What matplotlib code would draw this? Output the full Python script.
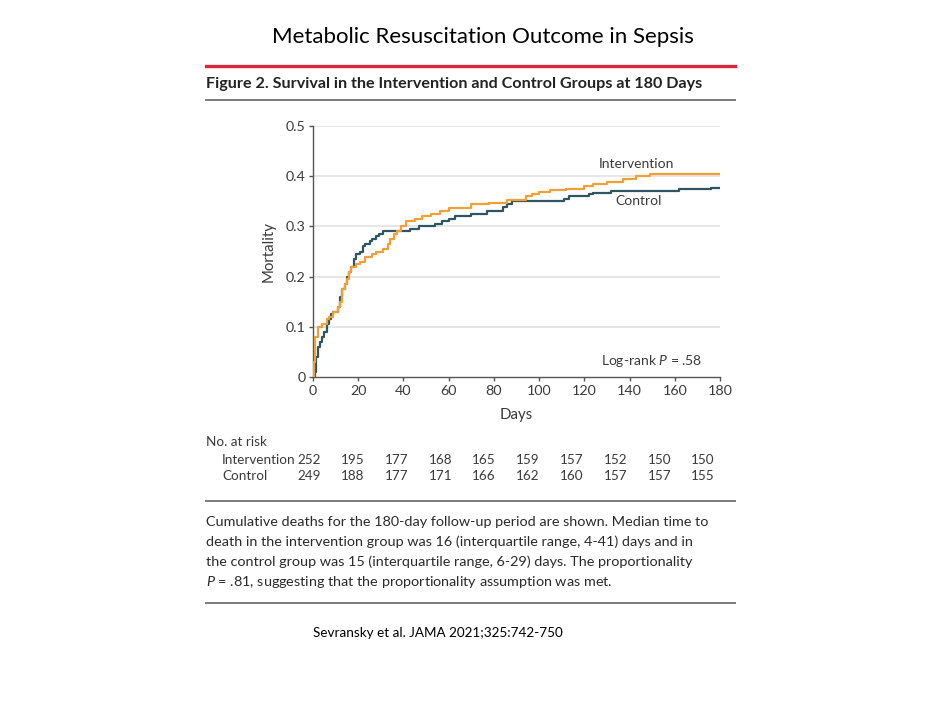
import matplotlib.pyplot as plt
from matplotlib.lines import Line2D
import numpy as np

# Kaplan-Meier style cumulative mortality
int_days = [0, 0.5, 1, 2, 4, 6, 7, 9, 11, 12, 13, 14, 15, 16, 17, 19, 21, 23, 26, 28,
            31, 33, 34, 36, 37, 39, 41, 45, 48, 52, 56, 60, 70, 78, 86, 94, 97, 100, 105, 112,
            120, 124, 130, 137, 143, 149, 180]
int_mort = [0, 0.03, 0.08, 0.10, 0.105, 0.115, 0.12, 0.13, 0.14, 0.15, 0.175, 0.185, 0.195, 0.21, 0.22, 0.225, 0.23, 0.24, 0.245, 0.25,
            0.255, 0.265, 0.275, 0.285, 0.29, 0.30, 0.31, 0.315, 0.32, 0.325, 0.33, 0.337, 0.344, 0.347, 0.352, 0.36, 0.364, 0.368, 0.372, 0.375,
            0.381, 0.385, 0.389, 0.394, 0.40, 0.405, 0.405]

ctl_days = [0, 1, 1.5, 2, 3, 4, 5, 6, 7, 8, 9, 11, 12, 13, 14, 15, 16, 17, 18, 19,
            21, 22, 23, 25, 26, 28, 29, 31, 43, 47, 54, 57, 60, 63, 70, 77, 84, 86, 88, 111,
            113, 122, 124, 132, 162, 176, 180]
ctl_mort = [0, 0.01, 0.04, 0.06, 0.07, 0.08, 0.09, 0.105, 0.115, 0.125, 0.13, 0.14, 0.16, 0.175, 0.185, 0.20, 0.21, 0.22, 0.235, 0.245,
            0.25, 0.26, 0.265, 0.27, 0.275, 0.28, 0.285, 0.29, 0.295, 0.30, 0.305, 0.31, 0.315, 0.32, 0.325, 0.33, 0.338, 0.344, 0.35, 0.355,
            0.36, 0.364, 0.367, 0.371, 0.374, 0.377, 0.377]

risk_days = [0, 20, 40, 60, 80, 100, 120, 140, 160, 180]
risk_int = [252, 195, 177, 168, 165, 159, 157, 152, 150, 150]
risk_ctl = [249, 188, 177, 171, 166, 162, 160, 157, 157, 155]

ORANGE = '#f0a035'
TEAL = '#2d5562'
GRAY = '#3a3a3a'
FONT = 'Lato'

plt.rcParams['mathtext.fontset'] = 'custom'
plt.rcParams['mathtext.it'] = 'Lato:italic'

W, H = 935, 720
fig = plt.figure(figsize=(W / 100, H / 100), dpi=100)
fig.patch.set_facecolor('white')

def fx(px):
    return px / W

def fy(py):
    return 1 - py / H

def hline(y, x0, x1, color, lw):
    fig.add_artist(Line2D([fx(x0), fx(x1)], [fy(y), fy(y)], color=color, lw=lw,
                          transform=fig.transFigure))

# header
fig.text(fx(483), fy(37), 'Metabolic Resuscitation Outcome in Sepsis', ha='center', va='center',
         fontsize=16, family=FONT, color='black')
hline(66, 206, 735, '#d42a3c', 2.4)
fig.text(fx(206), fy(84), 'Figure 2. Survival in the Intervention and Control Groups at 180 Days',
         ha='left', va='center', fontsize=11.6, family=FONT, weight='bold', color='#222222')
hline(100, 206, 735, '#7a7a7a', 1.4)

# main axes
ax = fig.add_axes([fx(313), fy(377), fx(720 - 313), (377 - 126) / H])
ax.step(int_days, int_mort, where='post', color=ORANGE, lw=1.6, zorder=3)
ax.step(ctl_days, ctl_mort, where='post', color=TEAL, lw=1.6, zorder=2)
ax.set_xlim(0, 180)
ax.set_ylim(0, 0.5)
ax.set_xticks(risk_days)
ax.set_yticks([0, 0.1, 0.2, 0.3, 0.4, 0.5])
ax.set_yticklabels(['0', '0.1', '0.2', '0.3', '0.4', '0.5'])
for y in [0.1, 0.2, 0.3, 0.4, 0.5]:
    ax.axhline(y, color='#e2e2e2', lw=1.2, zorder=0)
for s in ['top', 'right']:
    ax.spines[s].set_visible(False)
for s in ['left', 'bottom']:
    ax.spines[s].set_color('#555555')
    ax.spines[s].set_linewidth(1.0)
ax.tick_params(direction='out', length=3, width=1, color='#555555', labelcolor=GRAY,
               labelsize=10.3, pad=2.5)
for lab in ax.get_xticklabels() + ax.get_yticklabels():
    lab.set_family(FONT)
ax.set_xlabel('Days', fontsize=10.8, family=FONT, color=GRAY, labelpad=8)
ax.set_ylabel('Mortality', fontsize=10.8, family=FONT, color=GRAY, labelpad=7)

ax.text(143, 0.425, 'Intervention', ha='center', va='center', fontsize=10, family=FONT, color=GRAY)
ax.text(144, 0.35, 'Control', ha='center', va='center', fontsize=10, family=FONT, color=GRAY)
ax.text(172, 0.031, 'Log-rank $\\it{P}$ = .58', ha='right', va='center', fontsize=10, family=FONT, color=GRAY)

# number at risk table
fig.text(fx(206), fy(442), 'No. at risk', ha='left', va='center', fontsize=9.7, family=FONT, color=GRAY)
fig.text(fx(222), fy(460), 'Intervention', ha='left', va='center', fontsize=9.7, family=FONT, color=GRAY)
fig.text(fx(222), fy(476), 'Control', ha='left', va='center', fontsize=9.7, family=FONT, color=GRAY)
for d, a, b in zip(risk_days, risk_int, risk_ctl):
    xpix = 309 + d * (703 - 309) / 180
    fig.text(fx(xpix), fy(460), str(a), ha='center', va='center', fontsize=9.7, family=FONT, color=GRAY)
    fig.text(fx(xpix), fy(476), str(b), ha='center', va='center', fontsize=9.7, family=FONT, color=GRAY)

hline(501, 206, 735, '#7a7a7a', 1.4)

caption = [
    'Cumulative deaths for the 180-day follow-up period are shown. Median time to',
    'death in the intervention group was 16 (interquartile range, 4-41) days and in',
    'the control group was 15 (interquartile range, 6-29) days. The proportionality',
    '$\\it{P}$ = .81, suggesting that the proportionality assumption was met.',
]
for i, line in enumerate(caption):
    fig.text(fx(206), fy(522 + 20 * i), line, ha='left', va='center', fontsize=10.35,
             family=FONT, color='#2a2a2a')

hline(603, 206, 735, '#7a7a7a', 1.4)

fig.text(fx(313), fy(633), 'Sevransky et al. JAMA 2021;325:742-750', ha='left', va='center',
         fontsize=9.7, family=FONT, color='black')

fig.savefig('out.png', dpi=100)
